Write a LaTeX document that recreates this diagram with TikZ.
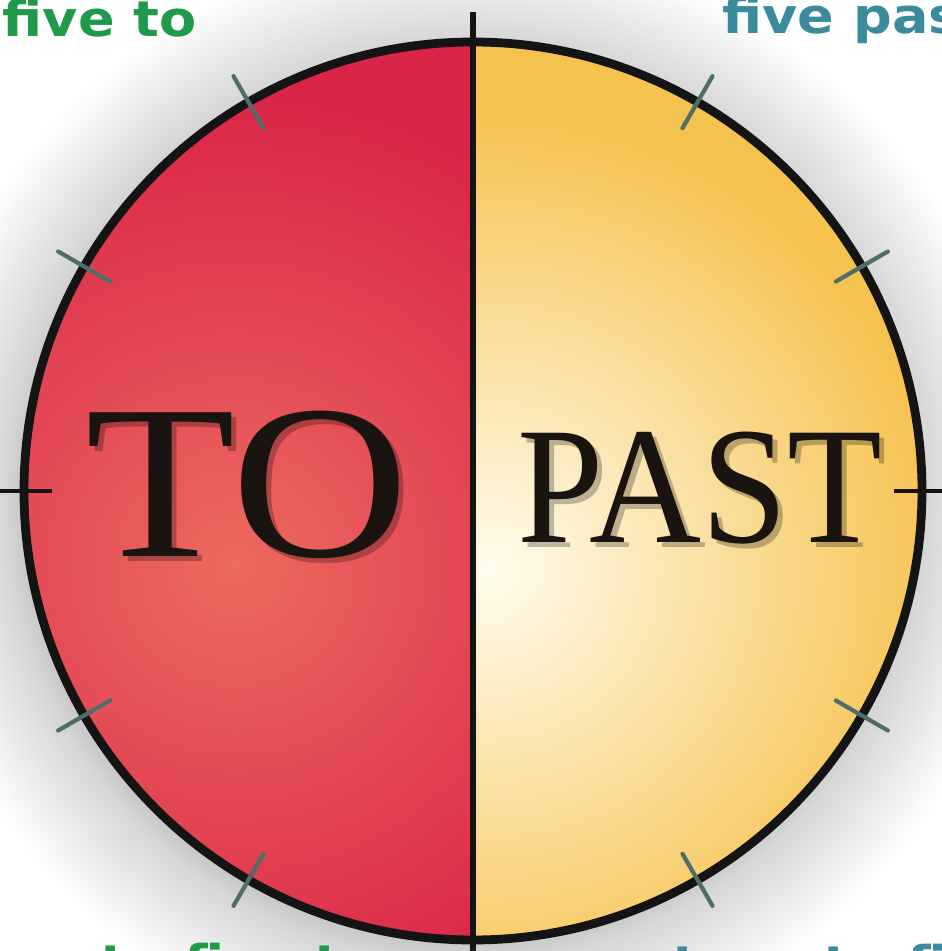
\documentclass[tikz,border=0pt]{standalone}
\usepackage{fontspec}
\setmainfont{Liberation Serif}
\newfontfamily\handfont{DejaVu Sans}
\usetikzlibrary{calc}

\definecolor{redlight}{HTML}{EC6A5E}
\definecolor{reddark}{HTML}{DA2448}
\definecolor{yellowlight}{HTML}{FFFCEE}
\definecolor{yellowdark}{HTML}{F6C24F}
\definecolor{tickcol}{HTML}{4E6E6A}
\definecolor{togreen}{HTML}{1E9A4A}
\definecolor{pastteal}{HTML}{3A8C9C}
\definecolor{ink}{HTML}{1A1410}
% soft grey halo, for a path of radius 1000 (25bp = 1000 units)
\pgfdeclareradialshading{glow}{\pgfpoint{0bp}{0bp}}{%
  color(0bp)=(black!22); color(11bp)=(black!22); color(11.5bp)=(black!16);
  color(14bp)=(white); color(50bp)=(white)}

\begin{document}
\begin{tikzpicture}[
    x=0.02cm, y=0.02cm,
    rim/.style={line width=5pt, black!92},
    divider/.style={line width=3.4pt, black!92},
    minutemark/.style={line width=2.4pt, tickcol, line cap=round},
    hourmark/.style={line width=2.4pt, black!92},
    big/.style={inner sep=0pt, text=ink},
    bigshadow/.style={big, text=black, opacity=0.25},
    lbl/.style={font=\handfont\bfseries\fontsize{28}{28}\selectfont,
                inner sep=0pt, xscale=1.1},
  ]
  \useasboundingbox (0,0) rectangle (942,951);
  \clip (0,0) rectangle (942,951);
  \coordinate (c) at (473,460);

  % soft shadow round the dial
  \shade[shading=glow] ($(c)+(-8,-10)$) circle (1000);

  % the two halves
  \begin{scope}
    \clip ($(c)+(0,449)$) arc[start angle=90, end angle=270, radius=449] -- cycle;
    \fill[reddark] (0,0) rectangle (942,951);
    \shade[inner color=redlight, outer color=reddark] (235,385) circle (480);
  \end{scope}
  \begin{scope}
    \clip ($(c)+(0,449)$) arc[start angle=90, end angle=-90, radius=449] -- cycle;
    \fill[yellowdark] (0,0) rectangle (942,951);
    \shade[inner color=yellowlight, outer color=yellowdark] (490,381) circle (460);
  \end{scope}

  % dial
  \draw[rim] (c) circle (449);
  \draw[divider] ($(c)+(0,479)$) coordinate (top) -- ($(c)+(0,-500)$) coordinate (bot);
  \foreach \a in {0,180}
    \draw[hourmark, shift={(c)}] (\a:421) -- (\a:479);
  \foreach \a in {30,60,120,150,210,240,300,330}
    \draw[minutemark, shift={(c)}] (\a:419) -- (\a:479);

  % words, with a soft shadow
  \node[bigshadow, font=\fontsize{125}{125}\selectfont, xscale=1.12, anchor=base]
    at (252,389) {TO};
  \node[big, font=\fontsize{125}{125}\selectfont, xscale=1.12, anchor=base]
    (to) at (247,394) {TO};
  \node[bigshadow, font=\fontsize{95}{95}\selectfont, xscale=0.93, anchor=base]
    at (705,403) {PAST};
  \node[big, font=\fontsize{95}{95}\selectfont, xscale=0.93, anchor=base]
    (past) at (700,408) {PAST};

  % labels at the edge, cut by the frame
  \node[lbl, text=togreen, anchor=base east] (fiveto) at (197,914) {five to};
  \node[lbl, text=pastteal, anchor=base west] (fivepast) at (722,917) {five past};
  \node[lbl, text=togreen, anchor=base west] (twentyfiveto) at (-51,-30) {twenty-five to};
  \node[lbl, text=pastteal, anchor=base west] (twentyfivepast) at (672,-31) {twenty-five past};
\end{tikzpicture}
\end{document}
